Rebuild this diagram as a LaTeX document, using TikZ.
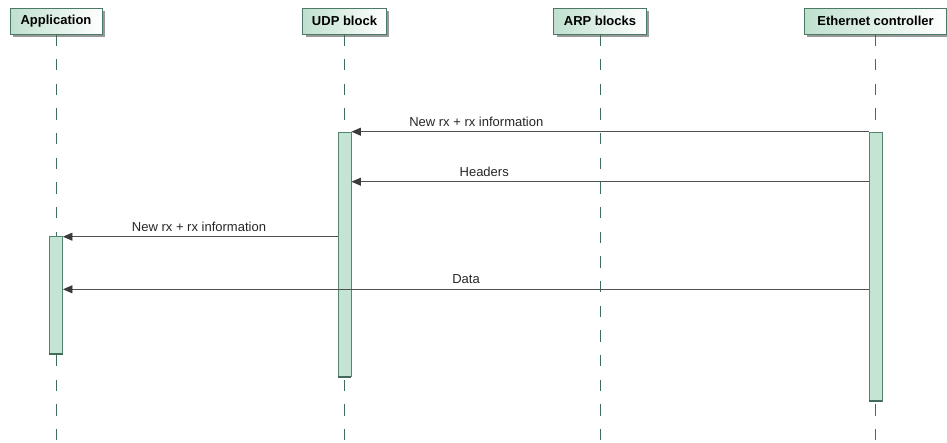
\documentclass[tikz,border=0pt]{standalone}
\usepackage{fontspec}
\setmainfont{Liberation Sans}
\usetikzlibrary{arrows.meta,shadows}

\definecolor{hdrfill}{HTML}{BFE0CE}
\definecolor{hdrborder}{HTML}{4A7A66}
\definecolor{lifecol}{HTML}{3F6F5C}
\definecolor{actfill}{HTML}{C4E4D4}
\definecolor{actborder}{HTML}{55846F}
\definecolor{msgcol}{HTML}{505050}
\definecolor{headcol}{HTML}{3A3A3A}

\tikzset{
  participant/.style={draw=hdrborder, line width=0.9pt,
    left color=hdrfill, right color=white,
    minimum height=26pt, inner sep=0pt,
    font=\fontsize{13}{15}\selectfont\bfseries,
    drop shadow={shadow xshift=3pt, shadow yshift=-3pt, fill=black!40, opacity=1}},
  lifeline/.style={draw=lifecol, line width=1pt,
    dash pattern=on 11.3pt off 13.35pt},
  activation/.style={draw=actborder, fill=actfill, line width=0.9pt,
    minimum width=13pt, inner sep=0pt},
  actbottom/.style={draw=actborder!80!black, line width=2pt},
  msg/.style={draw=msgcol, line width=0.9pt,
    -{Triangle[length=9.5pt,width=8pt,fill=headcol,color=headcol]}},
  msglabel/.style={anchor=base, inner sep=0pt,
    font=\fontsize{13}{15}\selectfont, text=black!85}
}

\begin{document}
\begin{tikzpicture}[x=1pt,y=-1pt]
\useasboundingbox (0,0) rectangle (947,442);

% participants
\node[participant, minimum width=92pt] (app) at (56,21) {Application};
\node[participant, minimum width=83.5pt] (udp) at (344.5,21) {UDP block};
\node[participant, minimum width=92.5pt] (arp) at (600,21) {ARP blocks};
\node[participant, minimum width=142.5pt] (eth) at (875.5,21) {Ethernet controller};

% lifeline ends
\coordinate (appEnd) at (56,442);
\coordinate (udpEnd) at (344.5,442);
\coordinate (arpEnd) at (600,442);
\coordinate (ethEnd) at (875.5,442);

\draw[lifeline] (app.south) -- (appEnd);
\draw[lifeline] (udp.south) -- (udpEnd);
\draw[lifeline] (arp.south) -- (arpEnd);
\draw[lifeline] (eth.south) -- (ethEnd);

% activation bars
\node[activation, minimum height=116.6pt] (appAct) at (56,295) {};
\node[activation, minimum height=244.4pt] (udpAct) at (344.5,254.5) {};
\node[activation, minimum height=269pt] (ethAct) at (875.5,266.5) {};
\draw[actbottom] (appAct.south west) -- (appAct.south east);
\draw[actbottom] (udpAct.south west) -- (udpAct.south east);
\draw[actbottom] (ethAct.south west) -- (ethAct.south east);

% message heights
\coordinate (m1) at (0,131.7);
\coordinate (m2) at (0,181.7);
\coordinate (m3) at (0,236.7);
\coordinate (m4) at (0,289.3);

% messages
\draw[msg] (ethAct.west |- m1) -- (udpAct.east |- m1);
\node[msglabel] (l1) at (476.3,126) {New rx + rx information};

\draw[msg] (ethAct.west |- m2) -- (udpAct.east |- m2);
\node[msglabel] (l2) at (484.2,176) {Headers};

\draw[msg] (udpAct.west |- m3) -- (appAct.east |- m3);
\node[msglabel] (l3) at (199,231) {New rx + rx information};

\draw[msg] (ethAct.west |- m4) -- (appAct.east |- m4);
\node[msglabel] (l4) at (466,283.5) {Data};
\end{tikzpicture}
\end{document}
